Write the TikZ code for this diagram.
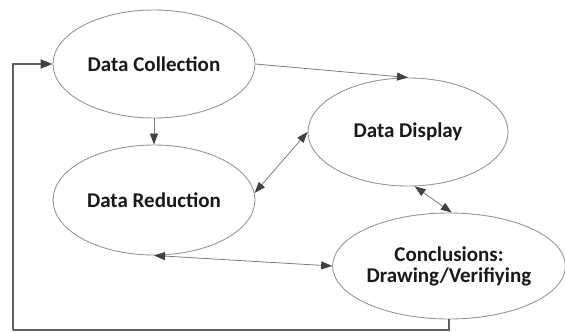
\documentclass[tikz,border=0pt]{standalone}
\usepackage{fontspec}
\setmainfont{Carlito}
\usetikzlibrary{shapes.geometric,arrows.meta}
\definecolor{ellgray}{RGB}{150,150,150}
\definecolor{linegray}{RGB}{125,125,125}
\definecolor{tipgray}{RGB}{65,65,65}
\definecolor{fbgray}{RGB}{95,95,95}
\tikzset{
  oval/.style={ellipse, draw=ellgray, line width=0.9pt, inner sep=0pt, align=center,
    font=\fontsize{21}{21}\selectfont\bfseries, text=black!90},
  conn/.style={draw=linegray, line width=0.8pt},
  tipend/.style={-{Triangle[length=11pt,width=8pt,color=tipgray]}},
  tipboth/.style={{Triangle[length=11pt,width=8pt,color=tipgray]}-{Triangle[length=11pt,width=8pt,color=tipgray]}},
  fb/.style={draw=fbgray, line width=1.6pt}
}
\begin{document}
\begin{tikzpicture}[x=1pt,y=-1pt]
\useasboundingbox (0,0) rectangle (565,332);
\node[oval, minimum width=202pt, minimum height=108pt] (DC) at (154,64) {Data Collection};
\node[oval, minimum width=202pt, minimum height=110pt] (DR) at (154,200) {Data Reduction};
\node[oval, minimum width=200pt, minimum height=108pt] (DD) at (408,132) {Data Display};
\node[oval, minimum width=232pt, minimum height=106pt] (CO) at (449,266) {Conclusions:\\Drawing/Verifiying};
\coordinate (fbc) at (13,330);
\draw[conn, tipend] (DC.east) -- (DD.north);
\draw[conn, tipend] (DC.south) -- (DR.north);
\draw[conn, tipboth] (DR.4) -- (DD.west);
\draw[conn, tipboth] (DD.-83) -- (CO.87);
\draw[conn, tipboth] (DR.south) -- (CO.west);
\draw[fb] (CO.south) |- (fbc);
\draw[fb, -{Triangle[length=12pt,width=9pt,color=tipgray]}] (fbc) |- (DC.west);
\end{tikzpicture}
\end{document}
